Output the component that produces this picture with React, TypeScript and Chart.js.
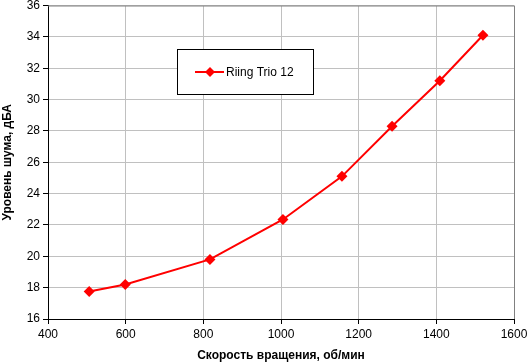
import React, { useEffect, useRef } from "react";
import { Chart, registerables } from "chart.js";

Chart.register(...registerables);

const speeds = [506, 599, 817, 1005, 1157, 1286, 1409, 1520];
const noise = [17.75, 18.2, 19.8, 22.35, 25.1, 28.3, 31.2, 34.1];
const seriesName = "Riing Trio 12";
const xTitle = "Скорость вращения, об/мин";
const yTitle = "Уровень шума, дБА";

const FONT = "'Liberation Sans', Arial, sans-serif";

const framePlugin = {
  id: "frame",
  afterDraw(chart: any) {
    const { ctx, chartArea: a } = chart;
    ctx.save();
    ctx.strokeStyle = "#808080";
    ctx.lineWidth = 1;
    ctx.beginPath();
    ctx.moveTo(a.left, a.top + 0.5);
    ctx.lineTo(a.right + 0.5, a.top + 0.5);
    ctx.lineTo(a.right + 0.5, a.bottom);
    ctx.stroke();
    // legend box
    const bx = 177.5, by = 49.5, bw = 136, bh = 45;
    ctx.fillStyle = "#fff";
    ctx.fillRect(bx, by, bw, bh);
    ctx.strokeStyle = "#000";
    ctx.strokeRect(bx, by, bw, bh);
    const ly = 72;
    ctx.strokeStyle = "#ff0000";
    ctx.lineWidth = 2;
    ctx.beginPath();
    ctx.moveTo(195, ly);
    ctx.lineTo(224, ly);
    ctx.stroke();
    ctx.fillStyle = "#ff0000";
    ctx.beginPath();
    ctx.moveTo(210, ly - 5);
    ctx.lineTo(215, ly);
    ctx.lineTo(210, ly + 5);
    ctx.lineTo(205, ly);
    ctx.closePath();
    ctx.fill();
    ctx.fillStyle = "#000";
    ctx.font = `12px ${FONT}`;
    ctx.textBaseline = "middle";
    ctx.textAlign = "left";
    ctx.fillText(seriesName, 226, ly + 1);
    ctx.restore();
  },
};

export default function App() {
  const ref = useRef<HTMLCanvasElement>(null);
  useEffect(() => {
    document.body.style.margin = "0";
    const chart = new Chart(ref.current!, {
      type: "line",
      data: {
        datasets: [
          {
            label: seriesName,
            data: speeds.map((x, i) => ({ x, y: noise[i] })),
            borderColor: "#ff0000",
            backgroundColor: "#ff0000",
            borderWidth: 2,
            pointStyle: "rectRot",
            pointRadius: 5.5,
            pointBorderWidth: 0,
            tension: 0,
          },
        ],
      },
      options: {
        animation: false,
        responsive: false,
        layout: { padding: { top: 5, right: 13, left: 0, bottom: 0 } },
        plugins: { legend: { display: false }, tooltip: { enabled: false } },
        scales: {
          x: {
            type: "linear",
            min: 400,
            max: 1600,
            ticks: { stepSize: 200, color: "#000", font: { family: FONT, size: 12 }, padding: 3, maxRotation: 0, callback: (v: any) => String(v) },
            grid: { color: "#c0c0c0", tickColor: "#000", tickLength: 5 },
            border: { color: "#000" },
            title: { display: true, text: xTitle, color: "#000", font: { family: FONT, size: 12, weight: "bold" }, padding: { top: 4, bottom: 0 } },
            afterFit(s: any) { s.height = 44; s.paddingRight = 0; s.paddingLeft = 0; },
          },
          y: {
            min: 16,
            max: 36,
            ticks: { stepSize: 2, color: "#000", font: { family: FONT, size: 12 }, padding: 3 },
            grid: { color: "#c0c0c0", tickColor: "#000", tickLength: 5 },
            border: { color: "#000" },
            title: { display: true, text: yTitle, color: "#000", font: { family: FONT, size: 12, weight: "bold" }, padding: { top: 0, bottom: 4 } },
            afterFit(s: any) { s.width = 48; s.paddingTop = 0; s.paddingBottom = 0; },
          },
        },
      },
      plugins: [framePlugin],
    } as any);
    return () => chart.destroy();
  }, []);
  return (
    <div style={{ position: "absolute", left: 0, top: 0, width: 527, height: 363 }}>
      <canvas ref={ref} width={527} height={363} style={{ width: 527, height: 363 }} />
    </div>
  );
}
